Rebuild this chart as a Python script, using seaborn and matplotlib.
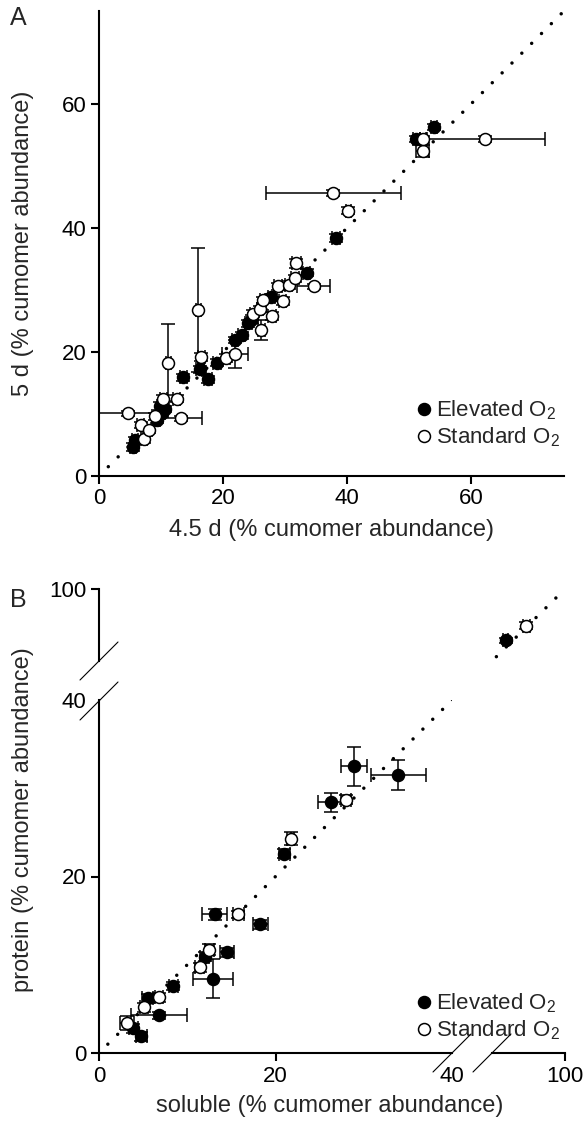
import matplotlib
matplotlib.use("Agg")
import matplotlib.pyplot as plt
from matplotlib.lines import Line2D
import seaborn as sns

# ---- panel A : 4.5 d vs 5 d (% cumomer abundance) ----
a_elev_x = [5.5, 5.8, 9.3, 9.8, 10.1, 10.6, 13.6, 16.3, 17.6, 19.0, 21.9, 23.0, 24.1, 24.6,
            27.8, 33.5, 38.2, 51.2, 54.0]
a_elev_y = [4.7, 5.8, 9.0, 11.3, 10.1, 10.8, 15.9, 17.2, 15.6, 18.3, 21.9, 22.7, 24.6, 25.3,
            28.8, 32.8, 38.4, 54.3, 56.3]
a_elev_xerr = [0.5, 0.5, 0.5, 0.5, 0.6, 0.5, 0.6, 0.6, 0.6, 0.6, 0.5, 0.6, 0.6, 0.6,
               0.6, 0.6, 0.6, 0.5, 0.5]
a_elev_yerr = [0.6, 0.5, 0.5, 0.6, 0.6, 0.5, 0.6, 0.6, 0.6, 0.6, 0.5, 0.6, 0.6, 0.6,
               0.6, 0.6, 0.6, 0.5, 0.5]

a_std_x = [4.6, 6.7, 7.3, 8.1, 9.0, 10.4, 12.5, 13.3, 11.2, 16.0, 16.5, 20.5, 21.9, 24.9,
           26.0, 26.2, 26.5, 27.9, 28.9, 29.6, 30.6, 31.6, 31.8, 34.6, 37.8, 40.2, 52.2,
           52.3, 62.3]
a_std_y = [10.1, 8.2, 5.9, 7.5, 9.6, 12.4, 12.5, 9.3, 18.3, 26.7, 19.2, 19.0, 19.7, 26.2,
           27.0, 23.5, 28.4, 25.8, 30.6, 28.2, 30.8, 31.9, 34.3, 30.6, 45.7, 42.8, 52.4,
           54.3, 54.3]
a_std_xerr = [5.5, 0.5, 0.5, 0.5, 0.5, 0.6, 0.6, 3.3, 0.4, 0.4, 0.6, 0.6, 2.1, 0.5,
              0.5, 0.6, 0.5, 0.6, 0.6, 0.6, 0.6, 0.6, 0.7, 2.6, 10.9, 0.4, 1.0,
              0.6, 9.6]
a_std_yerr = [0.4, 0.5, 0.5, 0.5, 0.5, 0.6, 0.6, 0.4, 6.2, 10.0, 0.6, 0.6, 2.3, 0.5,
              0.5, 1.6, 0.5, 0.6, 0.6, 0.6, 0.6, 0.6, 0.7, 0.4, 0.5, 0.6, 1.0,
              0.6, 0.5]

# ---- panel B : soluble vs protein (% cumomer abundance) ----
b_elev_x = [4.8, 3.9, 6.8, 5.5, 8.4, 12.9, 12.0, 14.5, 18.3, 13.1, 21.0, 26.3, 28.9, 33.9, 93.3]
b_elev_y = [1.9, 2.8, 4.3, 6.2, 7.6, 8.4, 10.9, 11.4, 14.6, 15.7, 22.6, 28.4, 32.5, 31.5, 94.1]
b_elev_xerr = [0.6, 0.5, 3.2, 0.6, 0.5, 2.3, 0.5, 0.8, 0.9, 1.4, 0.6, 1.5, 1.5, 3.1, 0.3]
b_elev_yerr = [0.5, 0.5, 0.4, 0.5, 0.5, 2.2, 0.5, 0.5, 0.5, 0.6, 0.5, 1.1, 2.2, 1.65, 0.3]

b_std_x = [3.2, 5.1, 6.8, 11.4, 12.5, 15.8, 21.7, 28.0, 95.6]
b_std_y = [3.4, 5.2, 6.3, 9.7, 11.7, 15.7, 24.3, 28.7, 95.8]
b_std_xerr = [0.8, 0.5, 0.5, 0.5, 0.5, 0.6, 0.4, 0.6, 0.4]
b_std_yerr = [0.8, 0.5, 0.5, 0.5, 0.6, 0.4, 0.75, 0.5, 0.4]

diag_a = [1.5, 75]
diag_b = [1.0, 100]

W, H = 583, 1125


def box(l, t, r, b):
    return [l / W, 1 - b / H, (r - l) / W, (b - t) / H]


def draw_series(ax, x, y, xerr, yerr, filled):
    ax.errorbar(x, y, xerr=xerr, yerr=yerr, fmt='none', ecolor='black',
                elinewidth=1.1, capsize=5.2, capthick=1.1, zorder=2, clip_on=True)
    sns.scatterplot(x=x, y=y, ax=ax, s=74, color='black' if filled else 'white',
                    edgecolor='black', linewidth=1.1, zorder=3, legend=False)


def diag(ax, d):
    ax.plot(d, d, color='black', lw=2.5, linestyle=(0, (0.01, 4)),
            dash_capstyle='round', zorder=1)


def style(ax):
    ax.tick_params(direction='out', length=6, width=1.5, labelsize=16, pad=3,
                   colors='black')
    for s in ax.spines.values():
        s.set_linewidth(1.5)
        s.set_color('black')
    ax.patch.set_visible(False)
    ax.set_xlabel('')
    ax.set_ylabel('')


sns.set_theme(style="ticks")
plt.rcParams['font.family'] = ['Liberation Sans', 'DejaVu Sans']
plt.rcParams['mathtext.fontset'] = 'custom'
plt.rcParams['mathtext.rm'] = 'Liberation Sans'
plt.rcParams['mathtext.it'] = 'Liberation Sans:italic'

fig = plt.figure(figsize=(W / 100, H / 100), dpi=100)

handles = [
    Line2D([], [], marker='o', ls='none', mfc='black', mec='black', ms=8.6, mew=1.1,
           label='Elevated O$_2$'),
    Line2D([], [], marker='o', ls='none', mfc='white', mec='black', ms=8.6, mew=1.1,
           label='Standard O$_2$'),
]
leg_kw = dict(handles=handles, frameon=False, fontsize=16, loc='center left',
              bbox_transform=fig.transFigure, handletextpad=0.1, handlelength=0.9,
              labelspacing=0.15, borderpad=0, borderaxespad=0)

# ---------------- panel A ----------------
axA = fig.add_axes(box(99, 11, 564, 476))
diag(axA, diag_a)
draw_series(axA, a_elev_x, a_elev_y, a_elev_xerr, a_elev_yerr, True)
draw_series(axA, a_std_x, a_std_y, a_std_xerr, a_std_yerr, False)
axA.set_xlim(0, 75)
axA.set_ylim(0, 75)
axA.set_xticks([0, 20, 40, 60])
axA.set_yticks([0, 20, 40, 60])
sns.despine(ax=axA)
style(axA)
axA.set_xlabel('4.5 d (% cumomer abundance)', fontsize=17, labelpad=7)
axA.set_ylabel('5 d (% cumomer abundance)', fontsize=17)
axA.yaxis.set_label_coords(-0.14, 0.5)
axA.legend(bbox_to_anchor=(414 / W, 1 - 424 / H), **leg_kw)

# ---------------- panel B (broken axes) ----------------
axB = fig.add_axes(box(99, 700, 452, 1053))
axUL = fig.add_axes(box(99, 589, 452, 661))
axLR = fig.add_axes(box(492, 700, 565, 1053))
axUR = fig.add_axes(box(492, 589, 565, 661))

lo, hi = 0, 40
top_lo = 100 - 73 / 8.83

for ax in (axB, axUR):
    diag(ax, diag_b)
    draw_series(ax, b_elev_x, b_elev_y, b_elev_xerr, b_elev_yerr, True)
    draw_series(ax, b_std_x, b_std_y, b_std_xerr, b_std_yerr, False)

axB.set_xlim(lo, hi)
axB.set_ylim(lo, hi)
axB.set_xticks([0, 20, 40])
axB.set_yticks([0, 20, 40])
sns.despine(ax=axB)
style(axB)
axB.xaxis.get_major_ticks()[-1].tick1line.set_visible(False)
axB.yaxis.get_major_ticks()[-1].tick1line.set_visible(False)

axUR.set_xlim(top_lo, 100)
axUR.set_ylim(top_lo, 100)
axUR.set_axis_off()

axUL.set_xlim(lo, hi)
axUL.set_ylim(top_lo, 100)
axUL.set_xticks([])
axUL.set_yticks([100])
sns.despine(ax=axUL, bottom=True)
style(axUL)

axLR.set_xlim(top_lo, 100)
axLR.set_ylim(lo, hi)
axLR.set_yticks([])
axLR.set_xticks([100])
sns.despine(ax=axLR, left=True)
style(axLR)

axB.set_xlabel('soluble (% cumomer abundance)', fontsize=17)
axB.xaxis.set_label_coords(231 / 353, -0.118)
axB.set_ylabel('protein (% cumomer abundance)', fontsize=17)
axB.yaxis.set_label_coords(-0.185, 0.66)
axB.legend(bbox_to_anchor=(414 / W, 1 - 1017 / H), **leg_kw)

# break marks
for cx, cy in [(99, 661), (99, 701), (452, 1053), (492, 1053)]:
    fig.add_artist(Line2D([(cx - 19) / W, (cx + 19) / W],
                          [1 - (cy + 19) / H, 1 - (cy - 19) / H],
                          color='black', lw=0.8, transform=fig.transFigure))

fig.text(10 / W, 1 - 18 / H, 'A', fontsize=18, va='center', ha='left')
fig.text(10 / W, 1 - 600 / H, 'B', fontsize=18, va='center', ha='left')

fig.savefig('out.png', dpi=100)
